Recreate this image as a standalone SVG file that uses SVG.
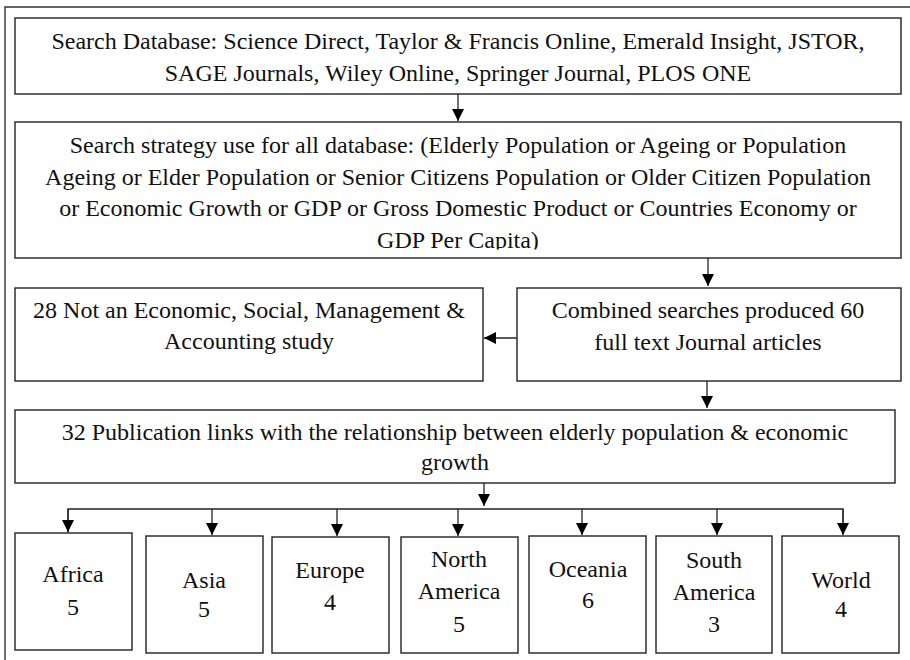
<svg xmlns="http://www.w3.org/2000/svg" width="910" height="660" viewBox="0 0 910 660">
<style>
.box{fill:#fff;stroke:#222;stroke-width:1.4}
.frame{fill:none;stroke:#333;stroke-width:1.4}
.t{font-family:"Liberation Serif","Times New Roman",serif;font-size:24px;fill:#111;text-anchor:middle}
.c{fill:none;stroke:#222;stroke-width:1.3}
</style>
<defs>
<marker id="ah" viewBox="0 0 12 12" refX="12" refY="6" markerWidth="12" markerHeight="12" markerUnits="userSpaceOnUse" orient="auto">
<path d="M0,0 L12,6 L0,12 Z" fill="#000"/>
</marker>
<clipPath id="clip2"><rect x="15" y="122" width="886" height="127.5"/></clipPath>
</defs>
<rect width="910" height="660" fill="#fff"/>
<path class="frame" d="M5,660 L5,7 L910,7"/>

<g id="connectors">
<line class="c" x1="458" y1="94" x2="458" y2="121" marker-end="url(#ah)"/>
<line class="c" x1="708" y1="258" x2="708" y2="286" marker-end="url(#ah)"/>
<line class="c" x1="517" y1="338" x2="484" y2="338" marker-end="url(#ah)"/>
<line class="c" x1="707" y1="381" x2="707" y2="408" marker-end="url(#ah)"/>
<line class="c" x1="484" y1="483" x2="484" y2="506" marker-end="url(#ah)"/>
<path class="c" d="M68,532 L68,509 L843,509 L843,534"/>
<line class="c" x1="68" y1="509" x2="68" y2="532" marker-end="url(#ah)"/>
<line class="c" x1="212" y1="509" x2="212" y2="535" marker-end="url(#ah)"/>
<line class="c" x1="337" y1="509" x2="337" y2="536" marker-end="url(#ah)"/>
<line class="c" x1="458" y1="509" x2="458" y2="536" marker-end="url(#ah)"/>
<line class="c" x1="582" y1="509" x2="582" y2="535" marker-end="url(#ah)"/>
<line class="c" x1="717" y1="509" x2="717" y2="535" marker-end="url(#ah)"/>
<line class="c" x1="843" y1="509" x2="843" y2="535" marker-end="url(#ah)"/>
</g>

<g id="n1">
<rect class="box" x="15" y="18" width="886" height="76"/>
<text class="t" x="458" y="49">Search Database: Science Direct, Taylor &amp; Francis Online, Emerald Insight, JSTOR,</text>
<text class="t" x="458" y="81">SAGE Journals, Wiley Online, Springer Journal, PLOS ONE</text>
</g>

<g id="n2">
<rect class="box" x="15" y="122" width="886" height="136"/>
<g clip-path="url(#clip2)">
<text class="t" x="458" y="153">Search strategy use for all database: (Elderly Population or Ageing or Population</text>
<text class="t" x="458" y="184.5">Ageing or Elder Population or Senior Citizens Population or Older Citizen Population</text>
<text class="t" x="458" y="216">or Economic Growth or GDP or Gross Domestic Product or Countries Economy or</text>
<text class="t" x="458" y="247.5">GDP Per Capita)</text>
</g>
</g>

<g id="n3">
<rect class="box" x="15" y="288" width="468" height="93"/>
<text class="t" x="249" y="318">28 Not an Economic, Social, Management &amp;</text>
<text class="t" x="249" y="349">Accounting study</text>
</g>

<g id="n4">
<rect class="box" x="517" y="288" width="384" height="93"/>
<text class="t" x="708" y="318">Combined searches produced 60</text>
<text class="t" x="708" y="350">full text Journal articles</text>
</g>

<g id="n5">
<rect class="box" x="15" y="410" width="880" height="73"/>
<text class="t" x="455" y="440">32 Publication links with the relationship between elderly population &amp; economic</text>
<text class="t" x="455" y="470">growth</text>
</g>

<g id="africa">
<rect class="box" x="15" y="533" width="117" height="117"/>
<text class="t" x="73" y="582">Africa</text>
<text class="t" x="73" y="615">5</text>
</g>
<g id="asia">
<rect class="box" x="146" y="536" width="117" height="117"/>
<text class="t" x="204" y="588">Asia</text>
<text class="t" x="204" y="617">5</text>
</g>
<g id="europe">
<rect class="box" x="272" y="537" width="117" height="116"/>
<text class="t" x="330" y="578">Europe</text>
<text class="t" x="330" y="610">4</text>
</g>
<g id="north-america">
<rect class="box" x="401" y="537" width="117" height="116"/>
<text class="t" x="459" y="567">North</text>
<text class="t" x="459" y="599">America</text>
<text class="t" x="459" y="632">5</text>
</g>
<g id="oceania">
<rect class="box" x="529" y="536" width="117" height="117"/>
<text class="t" x="588" y="577">Oceania</text>
<text class="t" x="588" y="608">6</text>
</g>
<g id="south-america">
<rect class="box" x="656" y="536" width="116" height="117"/>
<text class="t" x="714" y="568">South</text>
<text class="t" x="714" y="600">America</text>
<text class="t" x="714" y="632">3</text>
</g>
<g id="world">
<rect class="box" x="782" y="536" width="117" height="117"/>
<text class="t" x="841" y="588">World</text>
<text class="t" x="841" y="617">4</text>
</g>
</svg>
